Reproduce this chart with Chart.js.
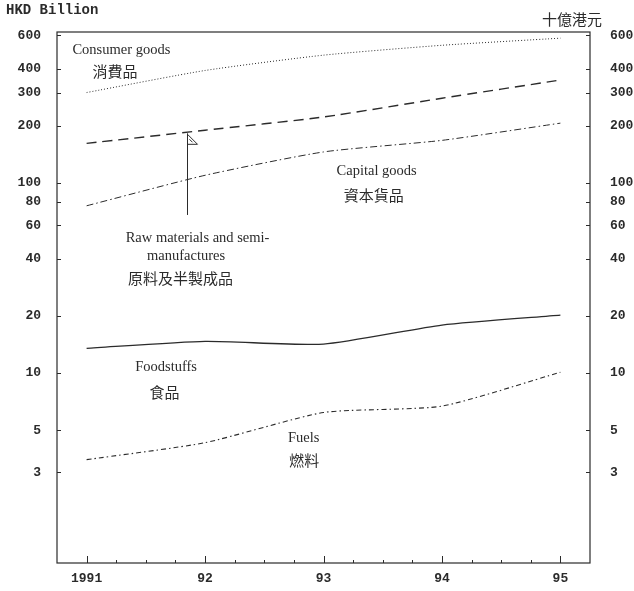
<!DOCTYPE html>
<html>
<head>
<meta charset="utf-8">
<script src="https://cdn.jsdelivr.net/npm/chart.js@4"></script>
<style>
  body { margin: 0; background: #fff; }
  #wrap { width: 634px; height: 591px; position: relative; }
</style>
</head>
<body>
<div id="wrap"><canvas id="chart"></canvas></div>
<script>
// values (HKD billion, log scale)
const years = [1991, 1992, 1993, 1994, 1995];
const yearLabels = ['1991', '92', '93', '94', '95'];
const yTicks = [3, 5, 10, 20, 40, 60, 80, 100, 200, 300, 400, 600];
const consumerGoods = [300, 392, 472, 532, 580];
const rawMaterials = [162, 190, 223, 280, 349];
const capitalGoods = [76, 110, 146, 168, 207];
const foodstuffs = [13.5, 14.7, 14.2, 17.9, 20.2];
const fuels = [3.5, 4.3, 6.2, 6.7, 10.1];

// text labels placed in data units [year, value]
const notes = [
    { text: 'Consumer goods', x: 1990.88, y: 501, cjk: false },
    { text: '消費品', x: 1991.05, y: 388, cjk: true },
    { text: 'Raw materials and semi-', x: 1991.33, y: 51.4, cjk: false },
    { text: 'manufactures', x: 1991.51, y: 41.3, cjk: false },
    { text: '原料及半製成品', x: 1991.35, y: 31.6, cjk: true },
    { text: 'Capital goods', x: 1993.11, y: 116, cjk: false },
    { text: '資本貨品', x: 1993.17, y: 86.5, cjk: true },
    { text: 'Foodstuffs', x: 1991.41, y: 10.8, cjk: false },
    { text: '食品', x: 1991.53, y: 7.94, cjk: true },
    { text: 'Fuels', x: 1992.70, y: 4.55, cjk: false },
    { text: '燃料', x: 1992.71, y: 3.48, cjk: true }
];
const arrowFrom = { x: 1991.85, y: 68 };
const arrowTo = { x: 1991.85, y: 183 };

const toPoints = arr => arr.map((v, i) => ({ x: years[i], y: v }));
const ink = '#2b2b2b';
const monoFont = { family: '"Liberation Mono", "DejaVu Sans Mono", monospace', size: 13, weight: 'bold' };

function fixTicks(values) {
    return scale => { scale.ticks = values.map(v => ({ value: v })); };
}

const framePlugin = {
    id: 'frame',
    afterDraw(chart) {
        const ctx = chart.ctx;
        const a = chart.chartArea;
        const xs = chart.scales.x, ys = chart.scales.y;
        ctx.save();
        ctx.strokeStyle = ink;
        ctx.lineWidth = 1.2;
        ctx.setLineDash([]);
        ctx.strokeRect(a.left, a.top, a.right - a.left, a.bottom - a.top);

        // inward tick marks
        ctx.lineWidth = 1;
        ctx.beginPath();
        yTicks.forEach(v => {
            const py = Math.round(ys.getPixelForValue(v)) + 0.5;
            ctx.moveTo(a.left, py); ctx.lineTo(a.left + 4, py);
            ctx.moveTo(a.right, py); ctx.lineTo(a.right - 4, py);
        });
        for (let q = years[0]; q <= years[years.length - 1] + 0.001; q += 0.25) {
            const px = Math.round(xs.getPixelForValue(q)) + 0.5;
            const major = Math.abs(q - Math.round(q)) < 0.001;
            ctx.moveTo(px, a.bottom); ctx.lineTo(px, a.bottom - (major ? 7 : 3));
        }
        ctx.stroke();

        // unit captions
        ctx.fillStyle = ink;
        ctx.font = 'bold 14px "Liberation Mono", "DejaVu Sans Mono", monospace';
        ctx.textBaseline = 'middle';
        ctx.textAlign = 'left';
        ctx.fillText('HKD Billion', 6, 10);
        ctx.font = '15px "Noto Sans CJK TC", sans-serif';
        ctx.fillText('十億港元', 542, 19);

        // series annotations
        notes.forEach(n => {
            ctx.font = n.cjk ? '15px "Noto Sans CJK TC", sans-serif'
                             : '14.5px "Liberation Serif", "DejaVu Serif", serif';
            ctx.fillText(n.text, xs.getPixelForValue(n.x), ys.getPixelForValue(n.y));
        });

        // arrow pointing at raw materials line
        const ax = Math.round(xs.getPixelForValue(arrowFrom.x)) + 0.5;
        const ay0 = ys.getPixelForValue(arrowFrom.y);
        const ay1 = ys.getPixelForValue(arrowTo.y);
        ctx.beginPath();
        ctx.moveTo(ax, ay0); ctx.lineTo(ax, ay1);
        ctx.stroke();
        ctx.beginPath();
        ctx.moveTo(ax, ay1 + 1);
        ctx.lineTo(ax, ay1 + 11);
        ctx.lineTo(ax + 10, ay1 + 11);
        ctx.closePath();
        ctx.stroke();
        ctx.beginPath();
        ctx.moveTo(ax + 2, ay1 + 6); ctx.lineTo(ax + 5, ay1 + 9);
        ctx.stroke();
        ctx.restore();
    }
};

const line = (label, data, dash, width) => ({
    label: label,
    data: toPoints(data),
    borderColor: ink,
    borderWidth: width,
    borderDash: dash,
    pointRadius: 0,
    tension: 0.2,
    fill: false
});

new Chart(document.getElementById('chart'), {
    type: 'line',
    data: {
        datasets: [
            line('Consumer goods', consumerGoods, [1, 2], 1),
            line('Raw materials and semi-manufactures', rawMaterials, [10, 6], 1.4),
            line('Capital goods', capitalGoods, [7, 3, 1.5, 3], 1),
            line('Foodstuffs', foodstuffs, [], 1.3),
            line('Fuels', fuels, [5, 3, 1.5, 3], 1.1)
        ]
    },
    options: {
        responsive: true,
        maintainAspectRatio: false,
        animation: false,
        layout: { padding: { top: 32 } },
        plugins: {
            legend: { display: false },
            tooltip: { enabled: false }
        },
        scales: {
            x: {
                type: 'linear',
                min: 1990.75,
                max: 1995.25,
                grid: { display: false, drawTicks: false },
                border: { display: false },
                afterBuildTicks: fixTicks(years),
                afterFit: scale => { scale.height = 28; },
                ticks: {
                    autoSkip: false,
                    maxRotation: 0,
                    padding: 8,
                    color: ink,
                    font: monoFont,
                    callback: v => yearLabels[years.indexOf(v)]
                }
            },
            y: {
                type: 'logarithmic',
                position: 'left',
                min: 1,
                max: 625,
                grid: { display: false, drawTicks: false },
                border: { display: false },
                afterBuildTicks: fixTicks(yTicks),
                afterFit: scale => { scale.width = 57; },
                ticks: {
                    autoSkip: false,
                    padding: 16,
                    color: ink,
                    font: monoFont,
                    callback: v => String(v)
                }
            },
            y2: {
                type: 'logarithmic',
                position: 'right',
                min: 1,
                max: 625,
                grid: { display: false, drawTicks: false },
                border: { display: false },
                afterBuildTicks: fixTicks(yTicks),
                afterFit: scale => { scale.width = 44; },
                ticks: {
                    autoSkip: false,
                    padding: 20,
                    color: ink,
                    font: monoFont,
                    callback: v => String(v)
                }
            }
        }
    },
    plugins: [framePlugin]
});
</script>
</body>
</html>
